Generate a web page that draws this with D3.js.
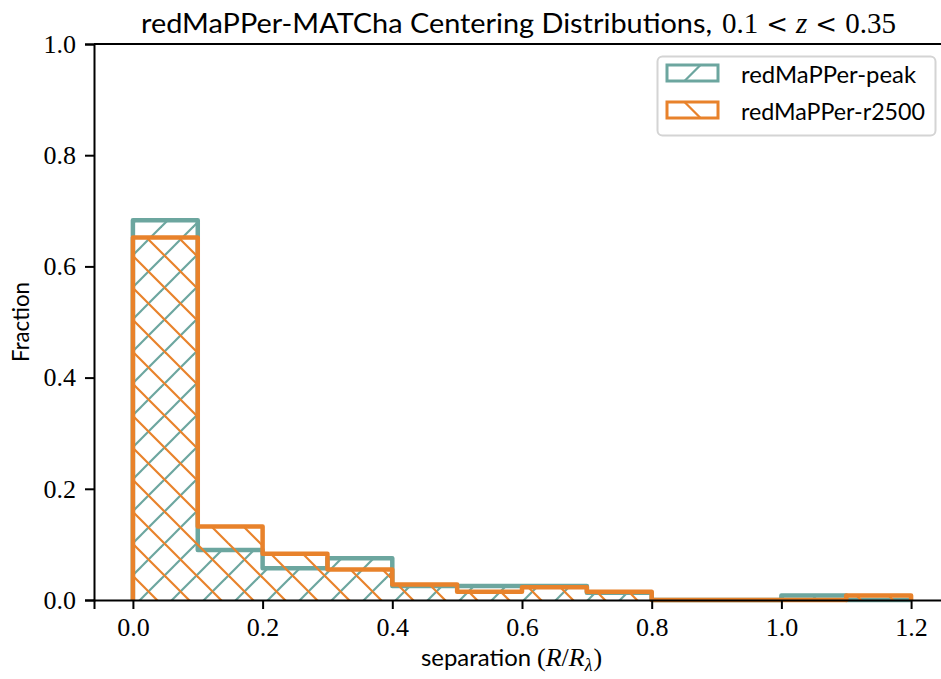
<!DOCTYPE html>
<html>
<head>
<meta charset="utf-8">
<script src="https://cdn.jsdelivr.net/npm/d3@7"></script>
<style>
  html, body { margin: 0; padding: 0; background: #fff; }
  svg { display: block; }
  .sans { font-family: Lato, "DejaVu Sans", sans-serif; }
  .serif { font-family: "Liberation Serif", "DejaVu Serif", serif; }
  .rel { font-family: "DejaVu Serif", serif; }
</style>
</head>
<body>
<svg id="chart" width="941" height="679"></svg>
<script>
// Bin edges for the separation histogram (R / R_lambda)
const binEdges = [0.0, 0.1, 0.2, 0.3, 0.4, 0.5, 0.6, 0.7, 0.8, 0.9, 1.0, 1.1, 1.2];
// Fraction of clusters per bin, redMaPPer vs MATCha peak centre
const peakFractions = [0.683, 0.090, 0.057, 0.075, 0.025, 0.025, 0.025, 0.013, 0.0, 0.0, 0.008, 0.0];
// Fraction of clusters per bin, redMaPPer vs MATCha r2500 centre
const r2500Fractions = [0.652, 0.132, 0.083, 0.055, 0.028, 0.015, 0.023, 0.015, 0.0, 0.0, 0.0, 0.008];
const seriesNames = ["redMaPPer-peak", "redMaPPer-r2500"];
const xTicks = [0.0, 0.2, 0.4, 0.6, 0.8, 1.0, 1.2];
const yTicks = [0.0, 0.2, 0.4, 0.6, 0.8, 1.0];

const colors = { peak: "#6ca69f", r2500: "#e8822b" };

const svg = d3.select("#chart");
const x = d3.scaleLinear().domain([-0.06, 1.26]).range([94, 950]);
const y = d3.scaleLinear().domain([0, 1]).range([600, 44]);

// Hatch patterns: "/" for peak, "\" for r2500
const defs = svg.append("defs");
const P = 32;
function hatch(id, color, dir, ox, oy) {
  const p = defs.append("pattern")
    .attr("id", id)
    .attr("patternUnits", "userSpaceOnUse")
    .attr("width", P).attr("height", P)
    .attr("x", ox).attr("y", oy);
  const segs = dir === "/"
    ? [[0, P, P, 0], [-P / 4, P / 4, P / 4, -P / 4], [3 * P / 4, 5 * P / 4, 5 * P / 4, 3 * P / 4]]
    : [[0, 0, P, P], [-P / 4, 3 * P / 4, P / 4, 5 * P / 4], [3 * P / 4, -P / 4, 5 * P / 4, P / 4]];
  segs.forEach(s => p.append("line")
    .attr("x1", s[0]).attr("y1", s[1]).attr("x2", s[2]).attr("y2", s[3])
    .attr("stroke", color).attr("stroke-width", 2.2));
}
hatch("hatch-peak", colors.peak, "/", 2, 2);
hatch("hatch-r2500", colors.r2500, "\\", 5, 0);

function stepPoints(vals) {
  const pts = [[binEdges[0], 0]];
  vals.forEach((v, i) => {
    pts.push([binEdges[i], v]);
    pts.push([binEdges[i + 1], v]);
  });
  pts.push([binEdges[binEdges.length - 1], 0]);
  return pts;
}
const line = d3.line().x(d => x(d[0])).y(d => y(d[1]));

function drawHist(vals, color, patternId) {
  const pts = stepPoints(vals);
  svg.append("path")
    .attr("d", line(pts) + "Z")
    .attr("fill", `url(#${patternId})`)
    .attr("stroke", "none");
  svg.append("path")
    .attr("d", line(pts))
    .attr("fill", "none")
    .attr("stroke", color)
    .attr("stroke-width", 4.5)
    .attr("stroke-linejoin", "round")
    .attr("stroke-linecap", "butt");
}
drawHist(peakFractions, colors.peak, "hatch-peak");
drawHist(r2500Fractions, colors.r2500, "hatch-r2500");

// Axes
const xAxis = d3.axisBottom(x).tickValues(xTicks).tickFormat(d3.format(".1f")).tickSizeOuter(0).tickSize(9).tickPadding(9);
const yAxis = d3.axisLeft(y).tickValues(yTicks).tickFormat(d3.format(".1f")).tickSizeOuter(0).tickSize(9).tickPadding(9);

const gx = svg.append("g").attr("transform", "translate(0,600)").call(xAxis);
const gy = svg.append("g").attr("transform", "translate(94,0)").call(yAxis);
[gx, gy].forEach(g => {
  g.select(".domain").attr("stroke", "#000").attr("stroke-width", 2);
  g.selectAll(".tick line").attr("stroke", "#000").attr("stroke-width", 2);
  g.selectAll(".tick text").attr("class", "serif").attr("font-size", 26).attr("fill", "#000");
});
// top and right spines
svg.append("line").attr("x1", 94).attr("x2", 950).attr("y1", 44).attr("y2", 44)
  .attr("stroke", "#000").attr("stroke-width", 2);
svg.append("line").attr("x1", 950).attr("x2", 950).attr("y1", 44).attr("y2", 600)
  .attr("stroke", "#000").attr("stroke-width", 2);

// Title
svg.append("text").attr("class", "sans").attr("x", 141).attr("y", 33)
  .attr("font-size", 27).attr("fill", "#000")
  .attr("textLength", 571).attr("lengthAdjust", "spacingAndGlyphs")
  .text("redMaPPer-MATCha Centering Distributions,");
const tm = svg.append("text").attr("class", "serif").attr("x", 722).attr("y", 33)
  .attr("font-size", 29).attr("fill", "#000");
tm.append("tspan").text("0.1");
tm.append("tspan").attr("class", "rel").attr("font-size", 26).attr("dx", 8).text("<");
tm.append("tspan").attr("dx", 8).attr("font-style", "italic").text("z");
tm.append("tspan").attr("class", "rel").attr("font-size", 26).attr("dx", 8).text("<");
tm.append("tspan").attr("dx", 8).text("0.35");

// Axis labels
svg.append("text").attr("class", "sans").attr("x", 421).attr("y", 666)
  .attr("font-size", 24).attr("fill", "#000")
  .attr("textLength", 110).attr("lengthAdjust", "spacingAndGlyphs")
  .text("separation");
const xm = svg.append("text").attr("class", "serif").attr("x", 537).attr("y", 666)
  .attr("font-size", 26).attr("fill", "#000");
xm.append("tspan").text("(");
xm.append("tspan").attr("font-style", "italic").text("R");
xm.append("tspan").text("/");
xm.append("tspan").attr("font-style", "italic").text("R");
xm.append("tspan").attr("font-size", 18).attr("font-style", "italic").attr("dy", 5).text("λ");
xm.append("tspan").attr("dy", -5).attr("dx", 1).text(")");

svg.append("text").attr("class", "sans")
  .attr("transform", "translate(29,322) rotate(-90)")
  .attr("text-anchor", "middle").attr("font-size", 23).attr("fill", "#000")
  .attr("textLength", 80).attr("lengthAdjust", "spacingAndGlyphs")
  .text("Fraction");

// Legend
const lg = svg.append("g");
lg.append("rect").attr("x", 657.5).attr("y", 56.5).attr("width", 278).attr("height", 79)
  .attr("rx", 5).attr("fill", "#fff").attr("fill-opacity", 0.8)
  .attr("stroke", "#d4d4d4").attr("stroke-width", 2);
const legendItems = [
  { name: seriesNames[0], color: colors.peak, dir: "/", len: 175 },
  { name: seriesNames[1], color: colors.r2500, dir: "\\", len: 184 }
];
legendItems.forEach((it, i) => {
  const y0 = 65 + i * 37;
  const g = lg.append("g");
  const w = 51, h = 16, x0 = 667;
  const cid = "leg-clip-" + i;
  defs.append("clipPath").attr("id", cid).append("rect")
    .attr("x", x0).attr("y", y0).attr("width", w).attr("height", h);
  const cx = x0 + w / 2, cy = y0 + h / 2;
  const segs = it.dir === "/"
    ? [[cx - 16, cy + 16, cx + 16, cy - 16], [x0 - 8, y0 + 8, x0 + 8, y0 - 8]]
    : [[cx - 16, cy - 16, cx + 16, cy + 16], [x0 - 8, y0 + h - 8, x0 + 8, y0 + h + 8]];
  segs.forEach(s => g.append("line").attr("clip-path", `url(#${cid})`)
    .attr("x1", s[0]).attr("y1", s[1]).attr("x2", s[2]).attr("y2", s[3])
    .attr("stroke", it.color).attr("stroke-width", 2.2));
  g.append("rect").attr("x", x0).attr("y", y0).attr("width", w).attr("height", h)
    .attr("fill", "none").attr("stroke", it.color).attr("stroke-width", 3);
  g.append("text").attr("class", "sans").attr("x", 741).attr("y", y0 + 18)
    .attr("font-size", 23).attr("fill", "#000")
    .attr("textLength", it.len).attr("lengthAdjust", "spacingAndGlyphs")
    .text(it.name);
});
</script>
</body>
</html>
